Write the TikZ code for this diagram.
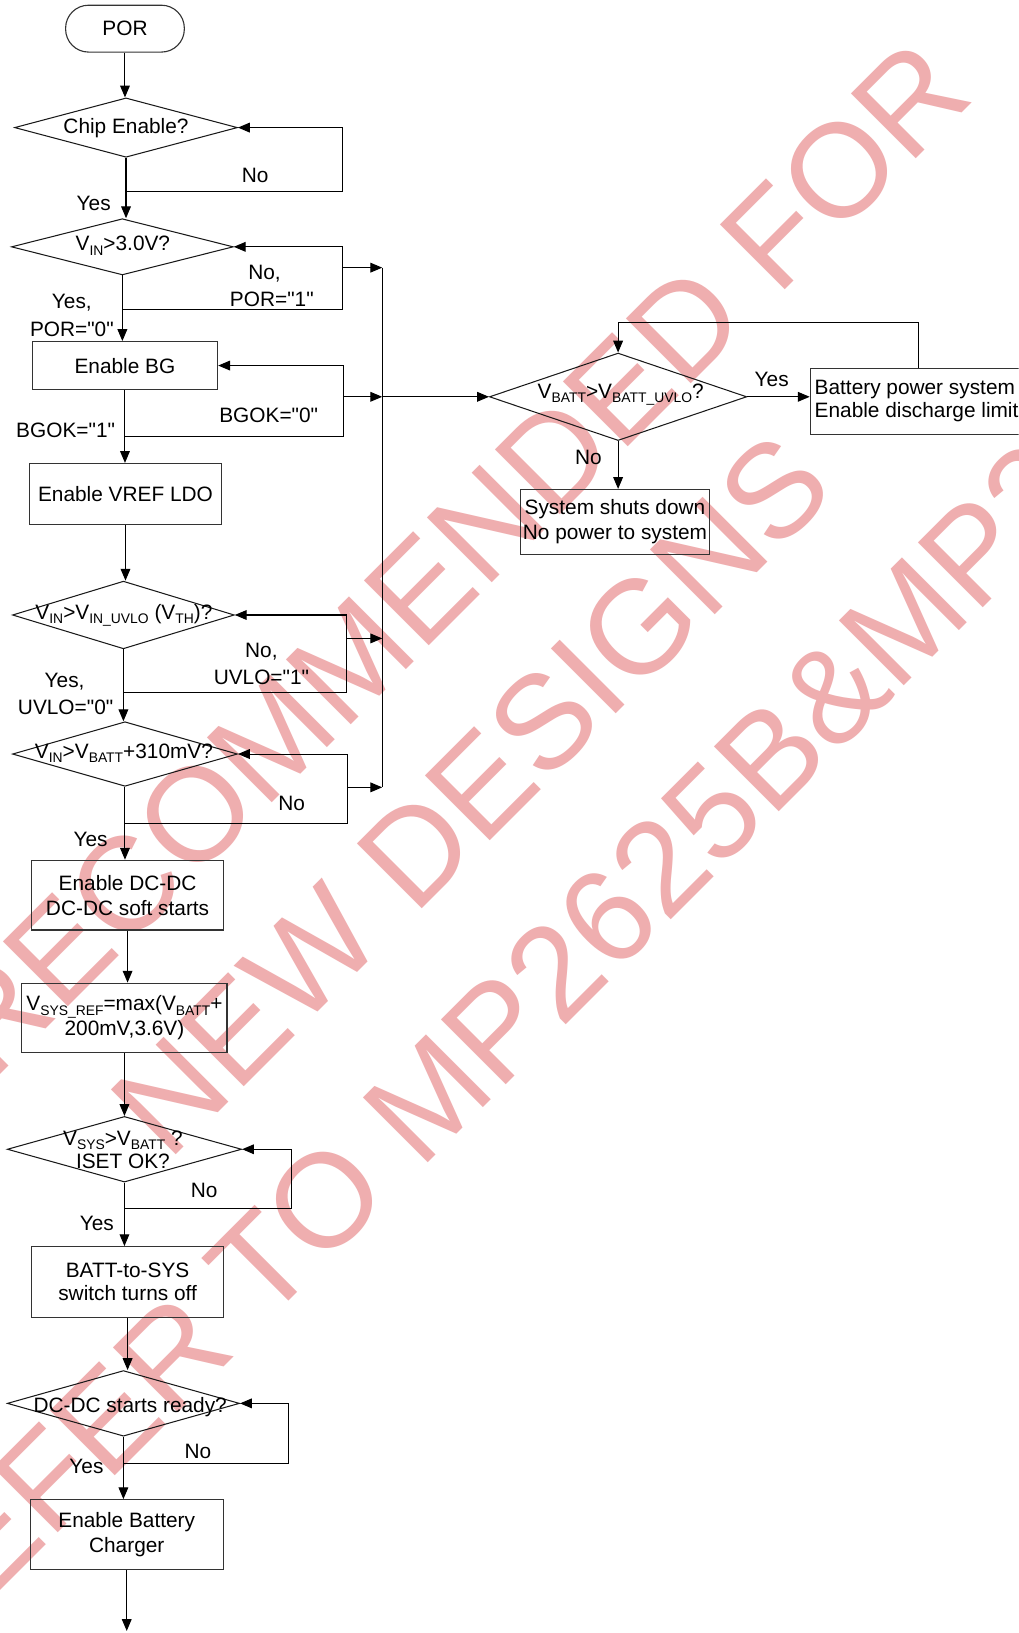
\documentclass[tikz,border=0pt]{standalone}
\usepackage{fontspec}
\setmainfont{Liberation Sans}[Ligatures=TeXOff]
\usetikzlibrary{shapes.geometric,arrows.meta}
\definecolor{wmcol}{RGB}{239,174,175}
\newcommand{\sbs}[1]{\raisebox{-3pt}{\fontsize{10}{10}\selectfont #1}}
\tikzset{
  box/.style={draw=black!80, line width=0.8pt, rectangle, inner sep=0pt, align=center},
  dia/.style={draw=black!90, line width=0.75pt, diamond, inner sep=0pt},
  lbl/.style={inner sep=0pt, align=center},
  wmk/.style={text=wmcol, inner sep=0pt, rotate=45, anchor=west, font=\fontsize{96}{96}\selectfont},
  arr/.style={-{Triangle[length=8.5pt,width=7pt]}},
  ln/.style={line width=0.75pt},
  tight/.style={font=\fontsize{15}{16.5}\selectfont}
}
\begin{document}
\begin{tikzpicture}[x=0.75pt,y=-0.75pt,font=\fontsize{15}{18}\selectfont]
\useasboundingbox (0,0) rectangle (978,1568);
\clip (0,0) rectangle (978,1568);
\fill[white] (0,0) rectangle (978,1568);
% watermark
\node[wmk] (w1) at (-255,1225) {NOT RECOMMENDED FOR};
\node[wmk] (w2) at (130,1085) {NEW DESIGNS};
\node[wmk] (w3) at (-109,1574) {REFER TO MP2625B\&MP2625};

% main column
\node[box, rounded corners=16.5pt, minimum width=85.5pt, minimum height=33.75pt] (por) at (120,27.5) {POR};

\node[dia, minimum width=160.5pt, minimum height=42.75pt] (chip) at (121,122.5) {};
\node[lbl] (chipT) at (121,123) {Chip Enable?};

\node[dia, minimum width=159.75pt, minimum height=40.5pt] (v3) at (117.5,237) {};
\node[lbl] (v3T) at (118,236) {V\sbs{IN}>3.0V?};

\node[box, minimum width=133.5pt, minimum height=34.5pt] (bg) at (120,351) {Enable BG};

\node[box, minimum width=138.75pt, minimum height=44.25pt] (vref) at (120.5,474.5) {Enable VREF LDO};

\node[dia, minimum width=159.75pt, minimum height=48.75pt] (uv) at (118.5,590.5) {};
\node[lbl] (uvT) at (119,591) {V\sbs{IN}>V\sbs{IN\_UVLO} (V\sbs{TH})?};

\node[dia, minimum width=162pt, minimum height=46.5pt] (v310) at (120,724) {};
\node[lbl] (v310T) at (119,723) {V\sbs{IN}>V\sbs{BATT}+310mV?};

\node[box, minimum width=138.75pt, minimum height=50.25pt] (dcdc) at (122.5,859.5) {Enable DC-DC\\DC-DC soft starts};

\node[box, minimum width=147.75pt, minimum height=50.25pt] (vsr) at (119.5,977.5) {V\sbs{SYS\_REF}=max(V\sbs{BATT}+\\200mV,3.6V)};

\node[dia, minimum width=168.75pt, minimum height=47.25pt] (vsys) at (119.5,1103.5) {};
\node[lbl, tight] (vsysT) at (118,1104) {V\sbs{SYS}>V\sbs{BATT} ?\\ISET OK?};

\node[box, tight, minimum width=138.75pt, minimum height=51pt] (b2s) at (122.5,1231) {BATT-to-SYS\\switch turns off};

\node[dia, minimum width=167.25pt, minimum height=47.25pt] (dcr) at (118.5,1347.5) {};
\node[lbl] (dcrT) at (125,1351) {DC-DC starts ready?};

\node[box, minimum width=138.75pt, minimum height=50.25pt] (chg) at (121.7,1473.5) {Enable Battery\\Charger};

% right part
\node[dia, minimum width=185.25pt, minimum height=63pt] (vb) at (593.5,381) {};
\node[lbl] (vbT) at (596,379) {V\sbs{BATT}>V\sbs{BATT\_UVLO}?};

\node[box, minimum width=135.75pt, minimum height=46.5pt] (sys) at (590.5,501) {System shuts down\\No power to system};

\node[box, minimum width=166.5pt, minimum height=47.25pt] (bat) at (889,385.5) {};
\node[lbl, tight, align=left, anchor=west] (batT) at (782,385) {Battery power system\\Enable discharge limit};

% connectors main column
\draw[ln,arr] (por.south) -- (por.south |- chip.north);
\draw[ln,arr] (chip.south) -- (chip.south |- v3.north);
\coordinate (k1) at (329,184);
\draw[ln,arr] (chip.south |- k1) -- (k1) |- (chip.east);

\draw[ln,arr] (v3.south) -- (v3.south |- bg.north);
\coordinate (k2) at (329,297);
\draw[ln,arr] (v3.south |- k2) -- (k2) |- (v3.east);

\draw[ln,arr] (bg.south) -- (bg.south |- vref.north);
\coordinate (k3) at (330,419);
\draw[ln,arr] (bg.south |- k3) -- (k3) |- (bg.east);

\draw[ln,arr] (vref.south) -- (vref.south |- uv.north);
\draw[ln,arr] (uv.south) -- (uv.south |- v310.north);
\coordinate (k4) at (333,665);
\draw[ln,arr] (uv.south |- k4) -- (k4) |- (uv.east);

\draw[ln,arr] (v310.south) -- (v310.south |- dcdc.north);
\coordinate (k5) at (334,791);
\draw[ln,arr] (v310.south |- k5) -- (k5) |- (v310.east);

\draw[ln,arr] (dcdc.south) -- (dcdc.south |- vsr.north);
\draw[ln,arr] (vsr.south) -- (vsr.south |- vsys.north);
\coordinate (k6) at (280,1160);
\draw[ln,arr] (vsys.south |- k6) -- (k6) |- (vsys.east);
\draw[ln,arr] (vsys.south) -- (vsys.south |- b2s.north);
\draw[ln,arr] (b2s.south) -- (b2s.south |- dcr.north);
\coordinate (k7) at (277,1405);
\draw[ln,arr] (dcr.south |- k7) -- (k7) |- (dcr.east);
\draw[ln,arr] (dcr.south) -- (dcr.south |- chg.north);
\coordinate (fin) at (121,1566);
\draw[ln,arr] (chg.south) -- (chg.south |- fin);

% bus
\coordinate (bA) at (367,257);
\coordinate (bB) at (367,381);
\coordinate (bC) at (367,613);
\coordinate (bD) at (367,756);
\draw[ln] (bA) -- (bD);
\draw[ln,arr] (k2 |- bA) -- (bA);
\draw[ln,arr] (k3 |- bB) -- (bB);
\draw[ln,arr] (k4 |- bC) -- (bC);
\draw[ln,arr] (k5 |- bD) -- (bD);
\draw[ln,arr] (bB) -- (vb.west);

% right connectors
\draw[ln,arr] (vb.east) -- (vb.east -| bat.west);
\draw[ln,arr] (vb.south) -- (vb.south |- sys.north);
\coordinate (k8) at (882,310);
\draw[ln,arr] (k8 |- bat.north) -- (k8) -| (vb.north);

% labels
\node[lbl] (l1) at (245,168) {No};
\node[lbl] (l2) at (90,195) {Yes};
\node[lbl] (l3) at (254,263) {No,};
\node[lbl] (l4) at (261,287) {POR="1"};
\node[lbl] (l5) at (69,291) {Yes,};
\node[lbl] (l6) at (69,316) {POR="0"};
\node[lbl] (l7) at (258,399) {BGOK="0"};
\node[lbl] (l8) at (63,413) {BGOK="1"};
\node[lbl] (l9) at (251,626) {No,};
\node[lbl] (l10) at (251,650) {UVLO="1"};
\node[lbl] (l11) at (62,655) {Yes,};
\node[lbl] (l12) at (63,679) {UVLO="0"};
\node[lbl] (l13) at (280,771) {No};
\node[lbl] (l14) at (87,806) {Yes};
\node[lbl] (l15) at (196,1143) {No};
\node[lbl] (l16) at (93,1175) {Yes};
\node[lbl] (l17) at (190,1394) {No};
\node[lbl] (l18) at (83,1408) {Yes};
\node[lbl] (l19) at (741,364) {Yes};
\node[lbl] (l20) at (565,439) {No};
\end{tikzpicture}
\end{document}
